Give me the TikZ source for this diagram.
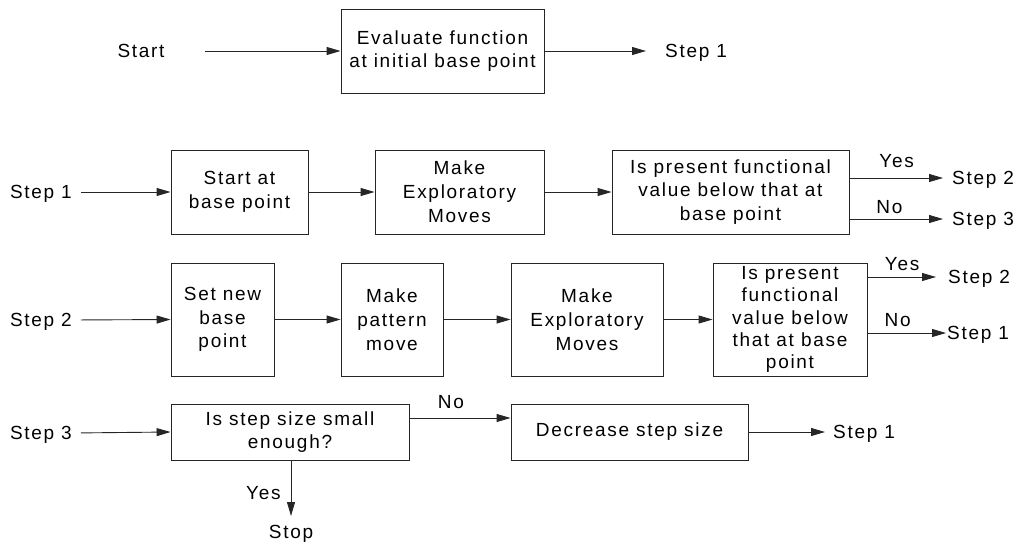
\documentclass[tikz,border=0pt]{standalone}
\usepackage{fontspec}
\setmainfont{Liberation Sans}[LetterSpace=9]
\usetikzlibrary{arrows.meta,positioning}
\begin{document}
\begin{tikzpicture}[x=1pt,y=-1pt,
  every node/.style={font=\fontsize{19}{23.8}\selectfont},
  box/.style={draw=black!85, line width=0.9pt, inner sep=0pt, align=center},
  tight/.style={font=\fontsize{19}{22.3}\selectfont},
  lbl/.style={inner sep=0pt, text height=13.6pt, text depth=0pt},
  yn/.style={inner sep=0pt, text height=13.6pt, text depth=0pt},
  arr/.style={draw=black!85, line width=0.9pt, -{Triangle[length=14pt,width=8pt]}}]
\useasboundingbox (0,0) rectangle (1021,544);

% initial evaluation
\node[lbl] (start) at (141,51) {Start};
\node[box, minimum width=203pt, minimum height=84pt] (eval) at (442.5,51) {Evaluate function\\at initial base point};
\node[lbl, anchor=west] (s1top) at (665,51) {Step 1};
\draw[arr, shorten <=40pt] (start.east) -- (eval.west);
\draw[arr, shorten >=19pt] (eval.east) -- (s1top.west);

% step 1: exploratory moves
\node[lbl, anchor=east] (r1) at (72,192) {Step 1};
\node[box, minimum width=137pt, minimum height=84pt] (b11) at (239.5,192) {Start at\\base point};
\node[box, minimum width=169pt, minimum height=84pt] (b12) at (459.5,192) {Make\\Exploratory\\Moves};
\node[box, minimum width=237pt, minimum height=84pt] (b13) at (730.5,192) {Is present functional\\value below that at\\base point};
\node[lbl, anchor=west] (r1y) at (952,178) {Step 2};
\node[lbl, anchor=west] (r1n) at (952,219) {Step 3};
\draw[arr, shorten <=9pt] (r1.east) -- (b11.west);
\draw[arr] (b11.east) -- (b12.west);
\draw[arr] (b12.east) -- (b13.west);
\draw[arr, shorten >=9pt] (b13.east |- r1y.west) -- node[yn, pos=.46, above=10pt] {Yes} (r1y.west);
\draw[arr, shorten >=9pt] (b13.east |- r1n.west) -- node[yn, pos=.39, above=5pt] {No} (r1n.west);

% step 2: pattern move
\node[lbl, anchor=east] (r2) at (72,320) {Step 2};
\node[box, minimum width=103pt, minimum height=113pt] (b21) at (222.5,319.5) {Set new\\base\\point};
\node[box, minimum width=102pt, minimum height=113pt] (b22) at (392,319.5) {Make\\pattern\\move};
\node[box, minimum width=152pt, minimum height=113pt] (b23) at (587,319.5) {Make\\Exploratory\\Moves};
\node[box, tight, minimum width=154pt, minimum height=113pt] (b24) at (790,319.5) {Is present\\functional\\value below\\that at base\\point};
\node[lbl, anchor=west] (r2y) at (948,277) {Step 2};
\node[lbl, anchor=west] (r2n) at (947,333) {Step 1};
\draw[arr, shorten <=9pt] (r2.east) -- (b21.west);
\draw[arr] (b21.east) -- (b22.west);
\draw[arr] (b22.east) -- (b23.west);
\draw[arr] (b23.east) -- (b24.west);
\draw[arr, shorten >=12pt] (b24.east |- r2y.west) -- node[yn, pos=.43, above=6pt] {Yes} (r2y.west);
\draw[arr, shorten >=1pt] (b24.east |- r2n.west) -- node[yn, pos=.38, above=6pt] {No} (r2n.west);

% step 3: step size check
\node[lbl, anchor=east] (r3) at (72,433) {Step 3};
\node[box, minimum width=238pt, minimum height=56pt] (b31) at (290,432) {Is step size small\\enough?};
\node[box, minimum width=237pt, minimum height=56pt] (b32) at (629.5,432) {Decrease step size};
\node[lbl, anchor=west] (r3o) at (833,432) {Step 1};
\node[lbl] (stop) at (291,532) {Stop};
\draw[arr, shorten <=9pt] (r3.east) -- (b31.west);
\draw[arr] ([yshift=14pt]b31.east) -- node[yn, pos=.41, above=9pt] {No} ([yshift=14pt]b31.east -| b32.west);
\draw[arr, shorten >=8pt] (b32.east) -- (r3o.west);
\draw[arr, shorten >=9pt] (b31.south -| stop.north) -- node[yn, midway, left=10pt] {Yes} (stop.north);
\end{tikzpicture}
\end{document}
